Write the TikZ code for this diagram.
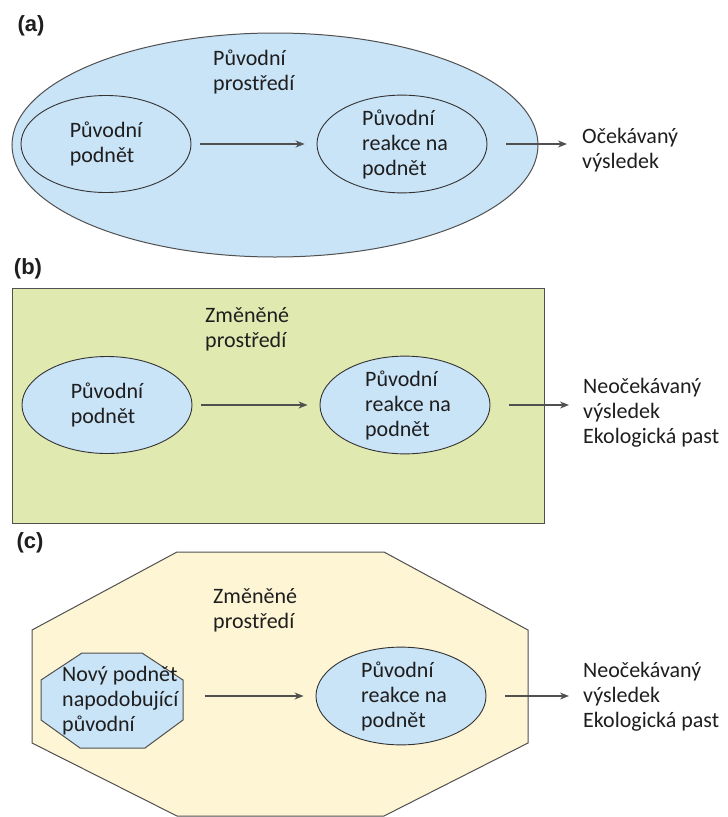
\documentclass[tikz,border=0pt]{standalone}
\usepackage{fontspec}
\setmainfont{Carlito}
\newfontfamily\labfont{Liberation Sans}
\usetikzlibrary{shapes.geometric,arrows.meta}
\definecolor{ellblue}{HTML}{C9E3F7}
\definecolor{boxgreen}{HTML}{E0EAB0}
\definecolor{boxcream}{HTML}{FEF5D5}
\definecolor{edgegray}{HTML}{505050}
\definecolor{txt}{HTML}{1E1E1E}
\tikzset{
  txtnode/.style={inner sep=0pt, align=left, text=txt, font=\fontsize{22}{25}\selectfont},
  inell/.style={ellipse, draw=black!80, line width=0.9pt, fill=ellblue, inner sep=0pt,
    minimum width=170pt, minimum height=97pt, align=left, text=txt, font=\fontsize{22}{25}\selectfont},
  panellab/.style={inner sep=0pt, font=\labfont\bfseries\fontsize{22}{24}\selectfont, text=txt},
  arr/.style={-{Stealth[length=9pt,width=7pt]}, line width=1.2pt, draw=edgegray},
  outer/.style={draw=edgegray, line width=1pt}
}
\begin{document}
\begin{tikzpicture}[x=1pt,y=-1pt]
\useasboundingbox (0,0) rectangle (728,817);
% ---------- (a)
\node[panellab] (la) at (31,26) {(a)};
\node[ellipse, outer, fill=ellblue, minimum width=526pt, minimum height=224pt, inner sep=0pt] (envA) at (275,145) {};
\node[txtnode, anchor=west] (tA) at (213,72) {Původní\\prostředí};
\node[inell] (a1) at (106,144) {Původní\\podnět};
\node[inell, minimum height=94pt] (a2) at (402,144) {\hspace*{6pt}Původní\\\hspace*{6pt}reakce na\\\hspace*{6pt}podnět};
\node[txtnode, anchor=west] (a3) at (582,150) {Očekávaný\\výsledek};
\draw[arr, shorten <=9pt, shorten >=12pt] (a1.east) -- (a2.west);
\draw[arr, shorten <=19pt, shorten >=15pt] (a2.east) -- (a2.east -| a3.west);
% ---------- (b)
\node[panellab] (lb) at (28,269) {(b)};
\draw[outer, fill=boxgreen] (12,288) rectangle (544,523);
\node[txtnode, anchor=west] (tB) at (205,329) {Změněné\\prostředí};
\node[inell] (b1) at (107,405) {Původní\\podnět};
\node[inell] (b2) at (405,405) {\hspace*{6pt}Původní\\\hspace*{6pt}reakce na\\\hspace*{6pt}podnět};
\node[txtnode, anchor=west] (b3) at (583,413) {Neočekávaný\\výsledek\\Ekologická past};
\draw[arr, shorten <=9pt, shorten >=12pt] (b1.east) -- (b2.west);
\draw[arr, shorten <=19pt, shorten >=14pt] (b2.east) -- (b2.east -| b3.west);
% ---------- (c)
\node[panellab] (lc) at (30,543) {(c)};
\draw[outer, fill=boxcream] (177,552) -- (384,552) -- (528,630) -- (528,743) -- (384,816)
  -- (177,816) -- (32,743) -- (32,630) -- cycle;
\node[txtnode, anchor=west] (tC) at (213,610) {Změněné\\prostředí};
\draw[draw=edgegray, line width=1pt, fill=ellblue] (82,653) -- (142,653) -- (183,680) -- (183,720)
  -- (145,748) -- (80,748) -- (41,720) -- (41,680) -- cycle;
\node[txtnode, anchor=west] (c1) at (62,701) {Nový podnět\\napodobující\\původní};
\node[inell] (c2) at (401,696) {\hspace*{6pt}Původní\\\hspace*{6pt}reakce na\\\hspace*{6pt}podnět};
\node[txtnode, anchor=west] (c3) at (583,697) {Neočekávaný\\výsledek\\Ekologická past};
\draw[arr, shorten >=12pt] (c1.east |- c2.west) ++(26,0) coordinate (c1s) (c1s) -- (c2.west);
\draw[arr, shorten <=19pt, shorten >=14pt] (c2.east) -- (c2.east -| c3.west);
\end{tikzpicture}
\end{document}
